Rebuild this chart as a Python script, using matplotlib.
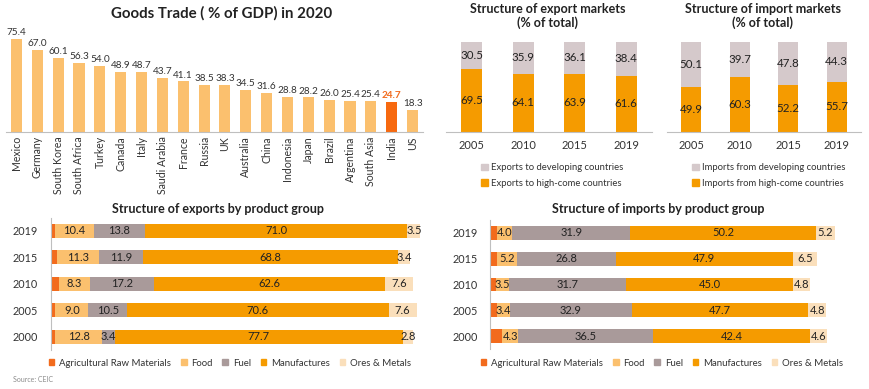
import matplotlib
matplotlib.use("Agg")
import matplotlib.pyplot as plt
from matplotlib.patches import Patch

plt.rcParams['font.family'] = ['Lato', 'DejaVu Sans']

W, H = 870, 389

# Goods trade (% of GDP) in 2020
countries = ["Mexico", "Germany", "South Korea", "South Africa", "Turkey", "Canada", "Italy",
             "Saudi Arabia", "France", "Russia", "UK", "Australia", "China", "Indonesia",
             "Japan", "Brazil", "Argentina", "South Asia", "India", "US"]
trade_gdp = [75.4, 67.0, 60.1, 56.3, 54.0, 48.9, 48.7, 43.7, 41.1, 38.5, 38.3, 34.5, 31.6,
             28.8, 28.2, 26.0, 25.4, 25.4, 24.7, 18.3]

# export / import markets
market_years = ["2005", "2010", "2015", "2019"]
exp_high = [69.5, 64.1, 63.9, 61.6]
exp_dev = [30.5, 35.9, 36.1, 38.4]
imp_high = [49.9, 60.3, 52.2, 55.7]
imp_dev = [50.1, 39.7, 47.8, 44.3]

# product groups (bottom to top: 2000 ... 2019)
prod_years = ["2000", "2005", "2010", "2015", "2019"]
groups = ["Agricultural Raw Materials", "Food", "Fuel", "Manufactures", "Ores & Metals"]
exp_agri = [1.2, 1.2, 2.3, 1.8, 1.2]
exp_food = [12.8, 9.0, 8.3, 11.3, 10.4]
exp_fuel = [3.4, 10.5, 17.2, 11.9, 13.8]
exp_manu = [77.7, 70.6, 62.6, 68.8, 71.0]
exp_ores = [2.8, 7.6, 7.6, 3.4, 3.5]
imp_agri = [3.3, 2.0, 1.6, 2.0, 2.0]
imp_food = [4.3, 3.4, 3.5, 5.2, 4.0]
imp_fuel = [36.5, 32.9, 31.7, 26.8, 31.9]
imp_manu = [42.4, 47.7, 45.0, 47.9, 50.2]
imp_ores = [4.6, 4.8, 4.8, 6.5, 5.2]

LIGHT = "#FBC06E"
INDIA = "#F7690F"
ORANGE = "#F59B00"
GREY = "#D5C9CB"
AGRI = "#F26B1D"
FUEL = "#A99A9A"
ORES = "#FADFBB"
TXT = "#333333"
grp_colors = [AGRI, LIGHT, FUEL, ORANGE, ORES]


def px_axes(fig, l, t, r, b):
    return fig.add_axes([l / W, 1 - b / H, (r - l) / W, (b - t) / H])


def clean(ax, keep):
    for s in ax.spines:
        ax.spines[s].set_visible(s == keep)
    ax.spines[keep].set_color("#BFBFBF")


fig = plt.figure(figsize=(W / 100, H / 100), dpi=100)
fig.patch.set_facecolor("white")

# ---- goods trade
ax = px_axes(fig, 6, 30, 423, 132)
xs = range(len(countries))
cols = [INDIA if c == "India" else LIGHT for c in countries]
ax.bar(xs, trade_gdp, width=0.53, color=cols)
for i, v in enumerate(trade_gdp):
    if countries[i] == "India":
        ax.text(i, v + 1.5, f"{v:.1f}", ha="center", va="bottom", fontsize=7.2,
                color=AGRI, fontweight="bold")
    else:
        ax.text(i, v + 1.5, f"{v:.1f}", ha="center", va="bottom", fontsize=7.2, color=TXT)
ax.set_xlim(-0.5, len(countries) - 0.5)
ax.set_ylim(0, 83)
ax.set_xticks(list(xs))
ax.set_xticklabels(countries, rotation=90, fontsize=7.6, color=TXT)
ax.set_yticks([])
ax.tick_params(axis="x", length=0, pad=3)
clean(ax, "bottom")
fig.text(222 / W, 1 - 13 / H, "Goods Trade ( % of GDP) in 2020", ha="center", va="center",
         fontsize=10.8, fontweight="bold", color="#222222")


# ---- markets
def markets(l, r, high, dev, title, tx, labels, lx):
    ax = px_axes(fig, l, 41.7, r, 131.7)
    x = range(len(market_years))
    ax.bar(x, high, width=0.41, color=ORANGE)
    ax.bar(x, dev, bottom=high, width=0.41, color=GREY)
    for i in x:
        ax.text(i, high[i] / 2, f"{high[i]:.1f}", ha="center", va="center", fontsize=8.3, color="#222222")
        ax.text(i, high[i] + dev[i] / 2, f"{dev[i]:.1f}", ha="center", va="center", fontsize=8.3,
                color="#222222")
    ax.set_xlim(-0.5, 3.5)
    ax.set_ylim(0, 100)
    ax.set_xticks(list(x))
    ax.set_xticklabels(market_years, fontsize=8, color=TXT)
    ax.tick_params(axis="x", length=0, pad=6)
    ax.set_yticks([])
    clean(ax, "bottom")
    fig.text(tx / W, 1 - 16 / H, title, ha="center", va="center", fontsize=9,
             fontweight="bold", color="#222222", linespacing=1.2)
    fig.legend([Patch(color=GREY), Patch(color=ORANGE)], labels, loc="center left",
               bbox_to_anchor=(lx / W, 1 - 175.5 / H), frameon=False, fontsize=6.8,
               handlelength=0.7, handleheight=0.7, handletextpad=0.4, labelspacing=0.7,
               borderpad=0, borderaxespad=0, labelcolor=TXT)


markets(446, 652, exp_high, exp_dev, "Structure of export markets\n(% of total)", 548,
        ["Exports to developing countries", "Exports to high-come countries"], 481)
markets(667, 861, imp_high, imp_dev, "Structure of import markets\n(% of total)", 763,
        ["Imports from developing countries", "Imports from high-come countries"], 692)


# ---- product groups
def products(l, t, b, series, title, tx, lx):
    ax = px_axes(fig, l, t, l + 370, b)
    y = range(len(prod_years))
    left = [0] * len(prod_years)
    for k, vals in enumerate(series):
        ax.barh(y, vals, left=left, height=0.53, color=grp_colors[k])
        if k > 0:
            for i, v in enumerate(vals):
                ax.text(left[i] + v / 2, i, f"{v:.1f}", ha="center", va="center", fontsize=8,
                        color="#222222")
        left = [a + v for a, v in zip(left, vals)]
    ax.set_xlim(0, 100)
    ax.set_ylim(-0.5, 4.5)
    ax.set_yticks(list(y))
    ax.set_yticklabels(prod_years, fontsize=7.8, color=TXT)
    ax.tick_params(axis="y", length=0, pad=9)
    ax.set_xticks([])
    clean(ax, "left")
    fig.text(tx / W, 1 - 209 / H, title, ha="center", va="center", fontsize=9,
             fontweight="bold", color="#222222")
    fig.legend([Patch(color=c) for c in grp_colors], groups, loc="center",
               bbox_to_anchor=(lx / W, 1 - 363 / H), ncol=5, frameon=False, fontsize=6.9,
               handlelength=0.6, handleheight=0.6, handletextpad=0.5, columnspacing=1.0,
               borderpad=0, borderaxespad=0, labelcolor=TXT)


products(50.7, 217.7, 350, [exp_agri, exp_food, exp_fuel, exp_manu, exp_ores],
         "Structure of exports by product group", 218, 230)
products(490, 220, 349, [imp_agri, imp_food, imp_fuel, imp_manu, imp_ores],
         "Structure of imports by product group", 658, 662)

fig.text(13 / W, 1 - 379 / H, "Source: CEIC", fontsize=5, color="#8C8C8C", va="center")

fig.savefig("out.png", dpi=100, facecolor="white")
